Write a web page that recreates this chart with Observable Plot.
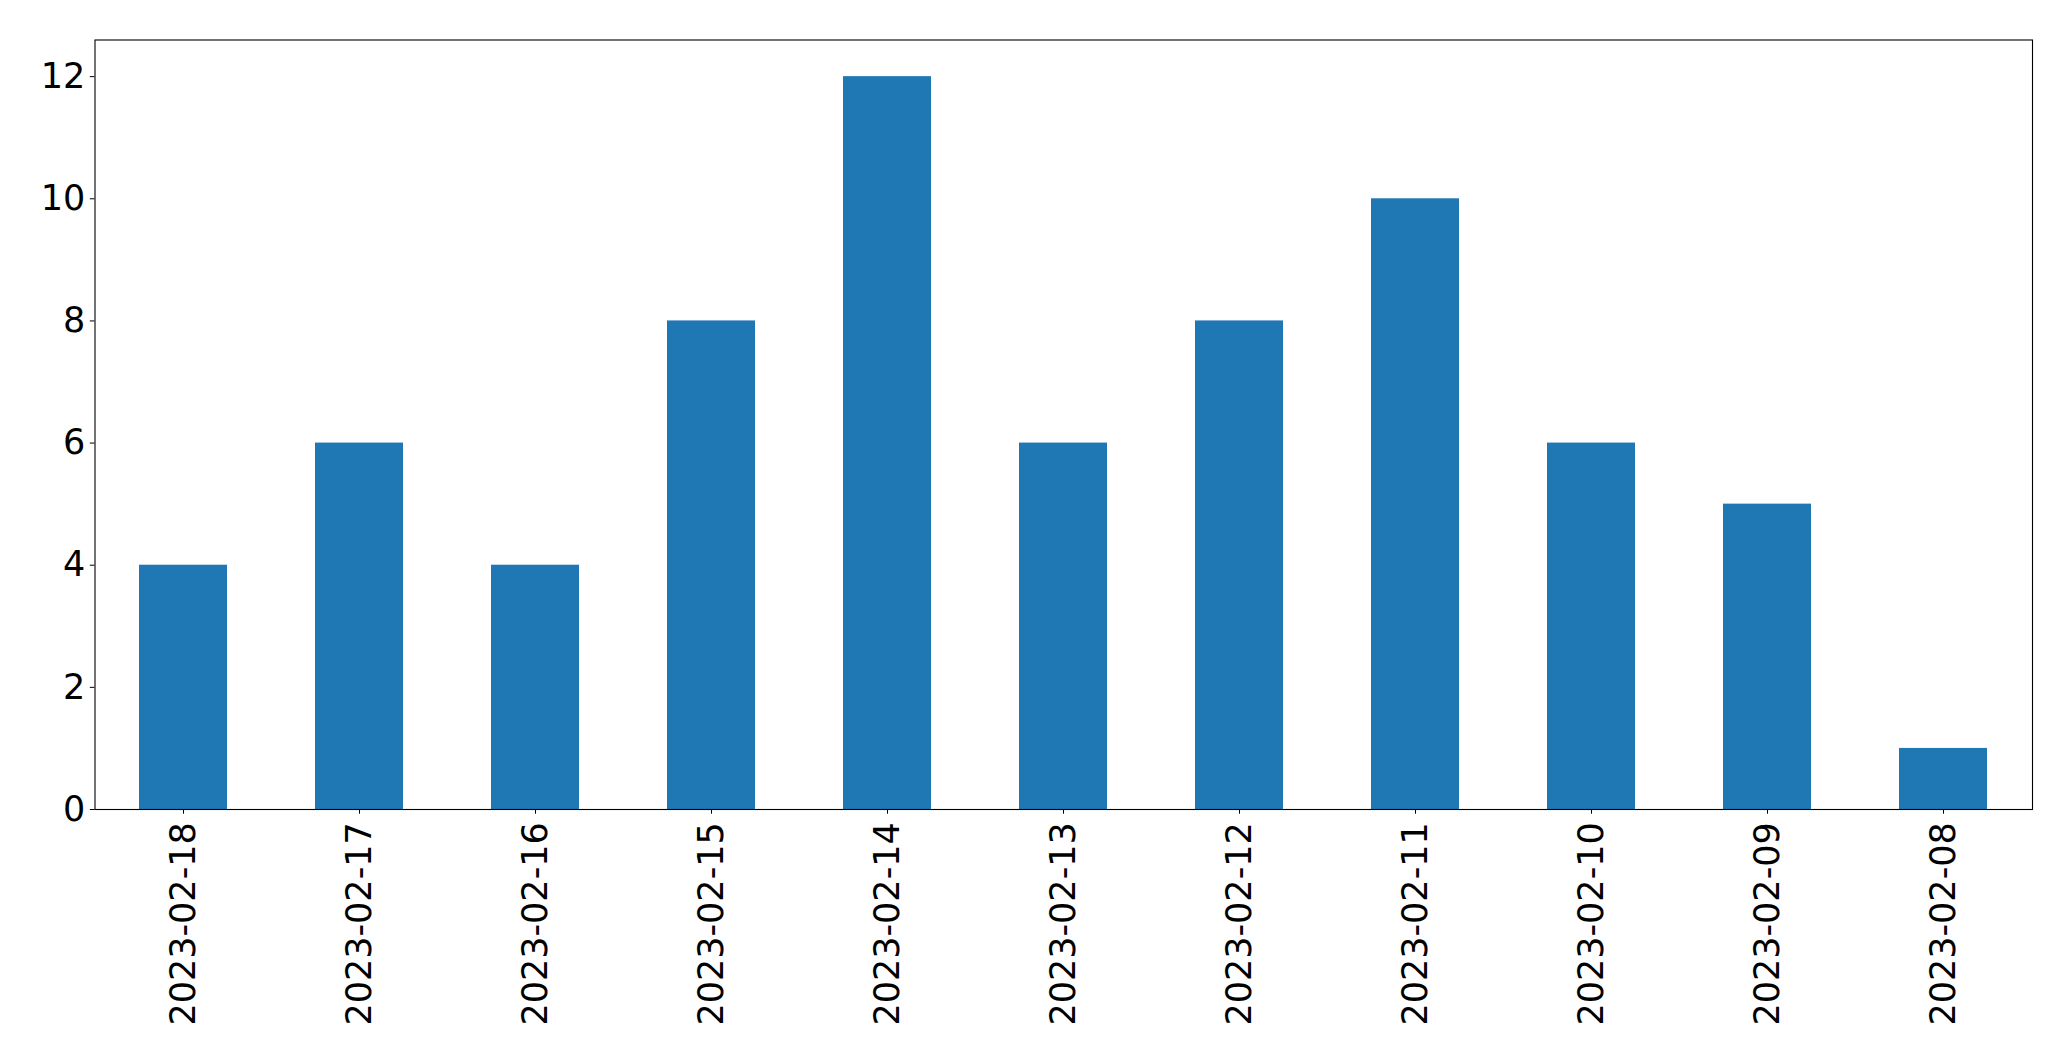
<!DOCTYPE html>
<html>
<head>
<meta charset="utf-8">
<script src="https://cdn.jsdelivr.net/npm/d3@7"></script>
<script src="https://cdn.jsdelivr.net/npm/@observablehq/plot@0.6"></script>
<style>
  html, body { margin: 0; padding: 0; background: white; }
  #chart svg { display: block; }
</style>
</head>
<body>
<div id="chart"></div>
<script>
const dates = ["2023-02-18","2023-02-17","2023-02-16","2023-02-15","2023-02-14","2023-02-13","2023-02-12","2023-02-11","2023-02-10","2023-02-09","2023-02-08"];
const counts = [4, 6, 4, 8, 12, 6, 8, 10, 6, 5, 1];
const yTicks = [0, 2, 4, 6, 8, 10, 12];

const data = dates.map((d, i) => ({date: d, count: counts[i]}));

const chart = Plot.plot({
  width: 2071,
  height: 1061,
  marginLeft: 94.5,
  marginRight: 39,
  marginTop: 39.5,
  marginBottom: 252,
  style: {fontFamily: "DejaVu Sans", fontSize: "35px", background: "white", color: "black"},
  x: {type: "band", domain: dates, paddingInner: 0.5, paddingOuter: 0.25, label: null},
  y: {domain: [0, 12.6], label: null},
  marks: [
    Plot.barY(data, {x: "date", y: "count", fill: "#1f77b4"}),
    Plot.frame({stroke: "black", strokeWidth: 1.1, strokeOpacity: 1}),
    Plot.axisY({ticks: yTicks, tickSize: 4.7, tickPadding: 5, fontSize: 35, label: null, tickFormat: d => String(d), stroke: "black", strokeOpacity: 1}),
    Plot.axisX({tickSize: 4.7, tickPadding: 8, tickRotate: -90, fontSize: 35, label: null, stroke: "black", strokeOpacity: 1})
  ]
});
document.getElementById("chart").appendChild(chart);
</script>
</body>
</html>
